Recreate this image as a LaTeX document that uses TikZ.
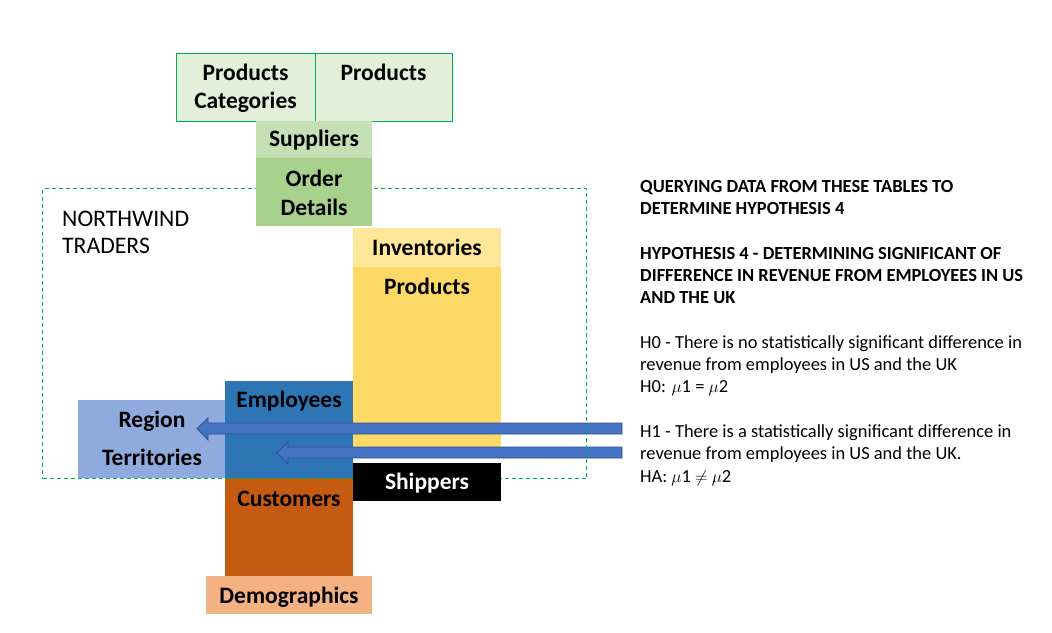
\documentclass[tikz,border=0pt]{standalone}
\usepackage{fontspec}
\setmainfont{Carlito}
\begin{document}
\begin{tikzpicture}[x=1pt,y=-1pt,
  tbl/.style={rectangle,inner sep=0pt,anchor=north west,draw=none},
  lbl/.style={inner sep=0pt,anchor=base,font=\fontsize{23.5}{28}\selectfont\bfseries},
  hd/.style={inner sep=0pt,anchor=base west,font=\fontsize{18.45}{22}\selectfont\bfseries},
  tx/.style={inner sep=0pt,anchor=base west,font=\fontsize{18.45}{22}\selectfont},
  barrow/.style={fill=arrblue,draw=arrline,line width=0.8pt,line join=miter}]
\definecolor{lgreen}{HTML}{E2F0D9}
\definecolor{bgreen}{HTML}{00B050}
\definecolor{supp}{HTML}{C5E0B4}
\definecolor{ordd}{HTML}{A9D18E}
\definecolor{inv}{HTML}{FFE699}
\definecolor{prody}{HTML}{FFD966}
\definecolor{emp}{HTML}{2E75B6}
\definecolor{reg}{HTML}{8FAADC}
\definecolor{cust}{HTML}{C55A11}
\definecolor{demo}{HTML}{F4B183}
\definecolor{arrblue}{HTML}{4472C4}
\definecolor{arrline}{HTML}{2F528F}
\useasboundingbox[fill=white] (0,0) rectangle (1052,632);
% top tables
\node[tbl,fill=lgreen,draw=bgreen,line width=1.2pt,minimum width=139pt,minimum height=68pt] (pc) at (176,53) {};
\node[tbl,fill=lgreen,draw=bgreen,line width=1.2pt,minimum width=137pt,minimum height=68pt] (pr) at (315,53) {};
\node[tbl,fill=supp,minimum width=116pt,minimum height=37pt] (sup) at (256,121) {};
% left / bottom tables
\node[tbl,fill=reg,minimum width=147pt,minimum height=78pt] (reg) at (78,400) {};
\node[tbl,fill=emp,minimum width=128pt,minimum height=98pt] (emp) at (225,381) {};
\node[tbl,fill=cust,minimum width=128pt,minimum height=98pt] (cus) at (225,478) {};
\node[tbl,fill=demo,minimum width=166pt,minimum height=38pt] (dem) at (206,576) {};
\node[tbl,fill=inv,minimum width=148pt,minimum height=39pt] (inv) at (353,228) {};
\node[tbl,fill=prody,minimum width=148pt,minimum height=180pt] (py) at (353,267) {};
% arrows
\draw[barrow] (622,423) -- (208,423) -- (208,418) -- (197,428.5) -- (208,440) -- (208,434) -- (622,434) -- cycle;
\draw[barrow] (622,447) -- (288,447) -- (288,442) -- (277,452.5) -- (288,464) -- (288,458) -- (622,458) -- cycle;
% northwind frame
\node[tbl,draw=bgreen,line width=1.1pt,dash pattern=on 4pt off 3pt,minimum width=544pt,minimum height=290pt] (nw) at (42,188) {};
\node[tbl,fill=ordd,minimum width=116pt,minimum height=68pt] (od) at (256,158) {};
\node[tbl,fill=black,minimum width=148pt,minimum height=38pt] (sh) at (353,463) {};
% labels
\node[lbl] (tpc1) at (245.5,80) {Products};
\node[lbl] (tpc2) at (245.5,108.5) {Categories};
\node[lbl] (tpr) at (383.5,80) {Products};
\node[lbl] (tsup) at (314,146.5) {Suppliers};
\node[lbl] (tod1) at (314,186.5) {Order};
\node[lbl] (tod2) at (314,215) {Details};
\node[lbl] (tinv) at (427,255) {Inventories};
\node[lbl] (tpy) at (427,294) {Products};
\node[lbl] (temp) at (289,407.5) {Employees};
\node[lbl] (treg1) at (152,427.5) {Region};
\node[lbl] (treg2) at (152,465.5) {Territories};
\node[lbl] (tcus) at (289,506) {Customers};
\node[lbl,text=white] (tsh) at (427,489.5) {Shippers};
\node[lbl] (tdem) at (289,603.5) {Demographics};
\node[inner sep=0pt,anchor=base west,font=\fontsize{23.7}{27}\selectfont] (tnw1) at (62,226) {NORTHWIND};
\node[inner sep=0pt,anchor=base west,font=\fontsize{23.7}{27}\selectfont] (tnw2) at (62,253) {TRADERS};
% right text
\node[hd] (r1) at (640,192) {QUERYING DATA FROM THESE TABLES TO};
\node[hd] (r2) at (640,214.3) {DETERMINE HYPOTHESIS 4};
\node[hd] (r3) at (640,259) {HYPOTHESIS 4 - DETERMINING SIGNIFICANT OF};
\node[hd] (r4) at (640,281.3) {DIFFERENCE IN REVENUE FROM EMPLOYEES IN US};
\node[hd] (r5) at (640,303.6) {AND THE UK};
\node[tx] (r6) at (640,348.2) {H0 - There is no statistically significant difference in};
\node[tx] (r7) at (640,370.5) {revenue from employees in US and the UK};
\node[tx] (r8) at (640,392.8) {H0: $\mu$1 = $\mu$2};
\node[tx] (r9) at (640,437.4) {H1 - There is a statistically significant difference in};
\node[tx] (r10) at (640,459.7) {revenue from employees in US and the UK.};
\node[tx] (r11) at (640,482) {HA: $\mu$1 $\neq$ $\mu$2};
\end{tikzpicture}
\end{document}
